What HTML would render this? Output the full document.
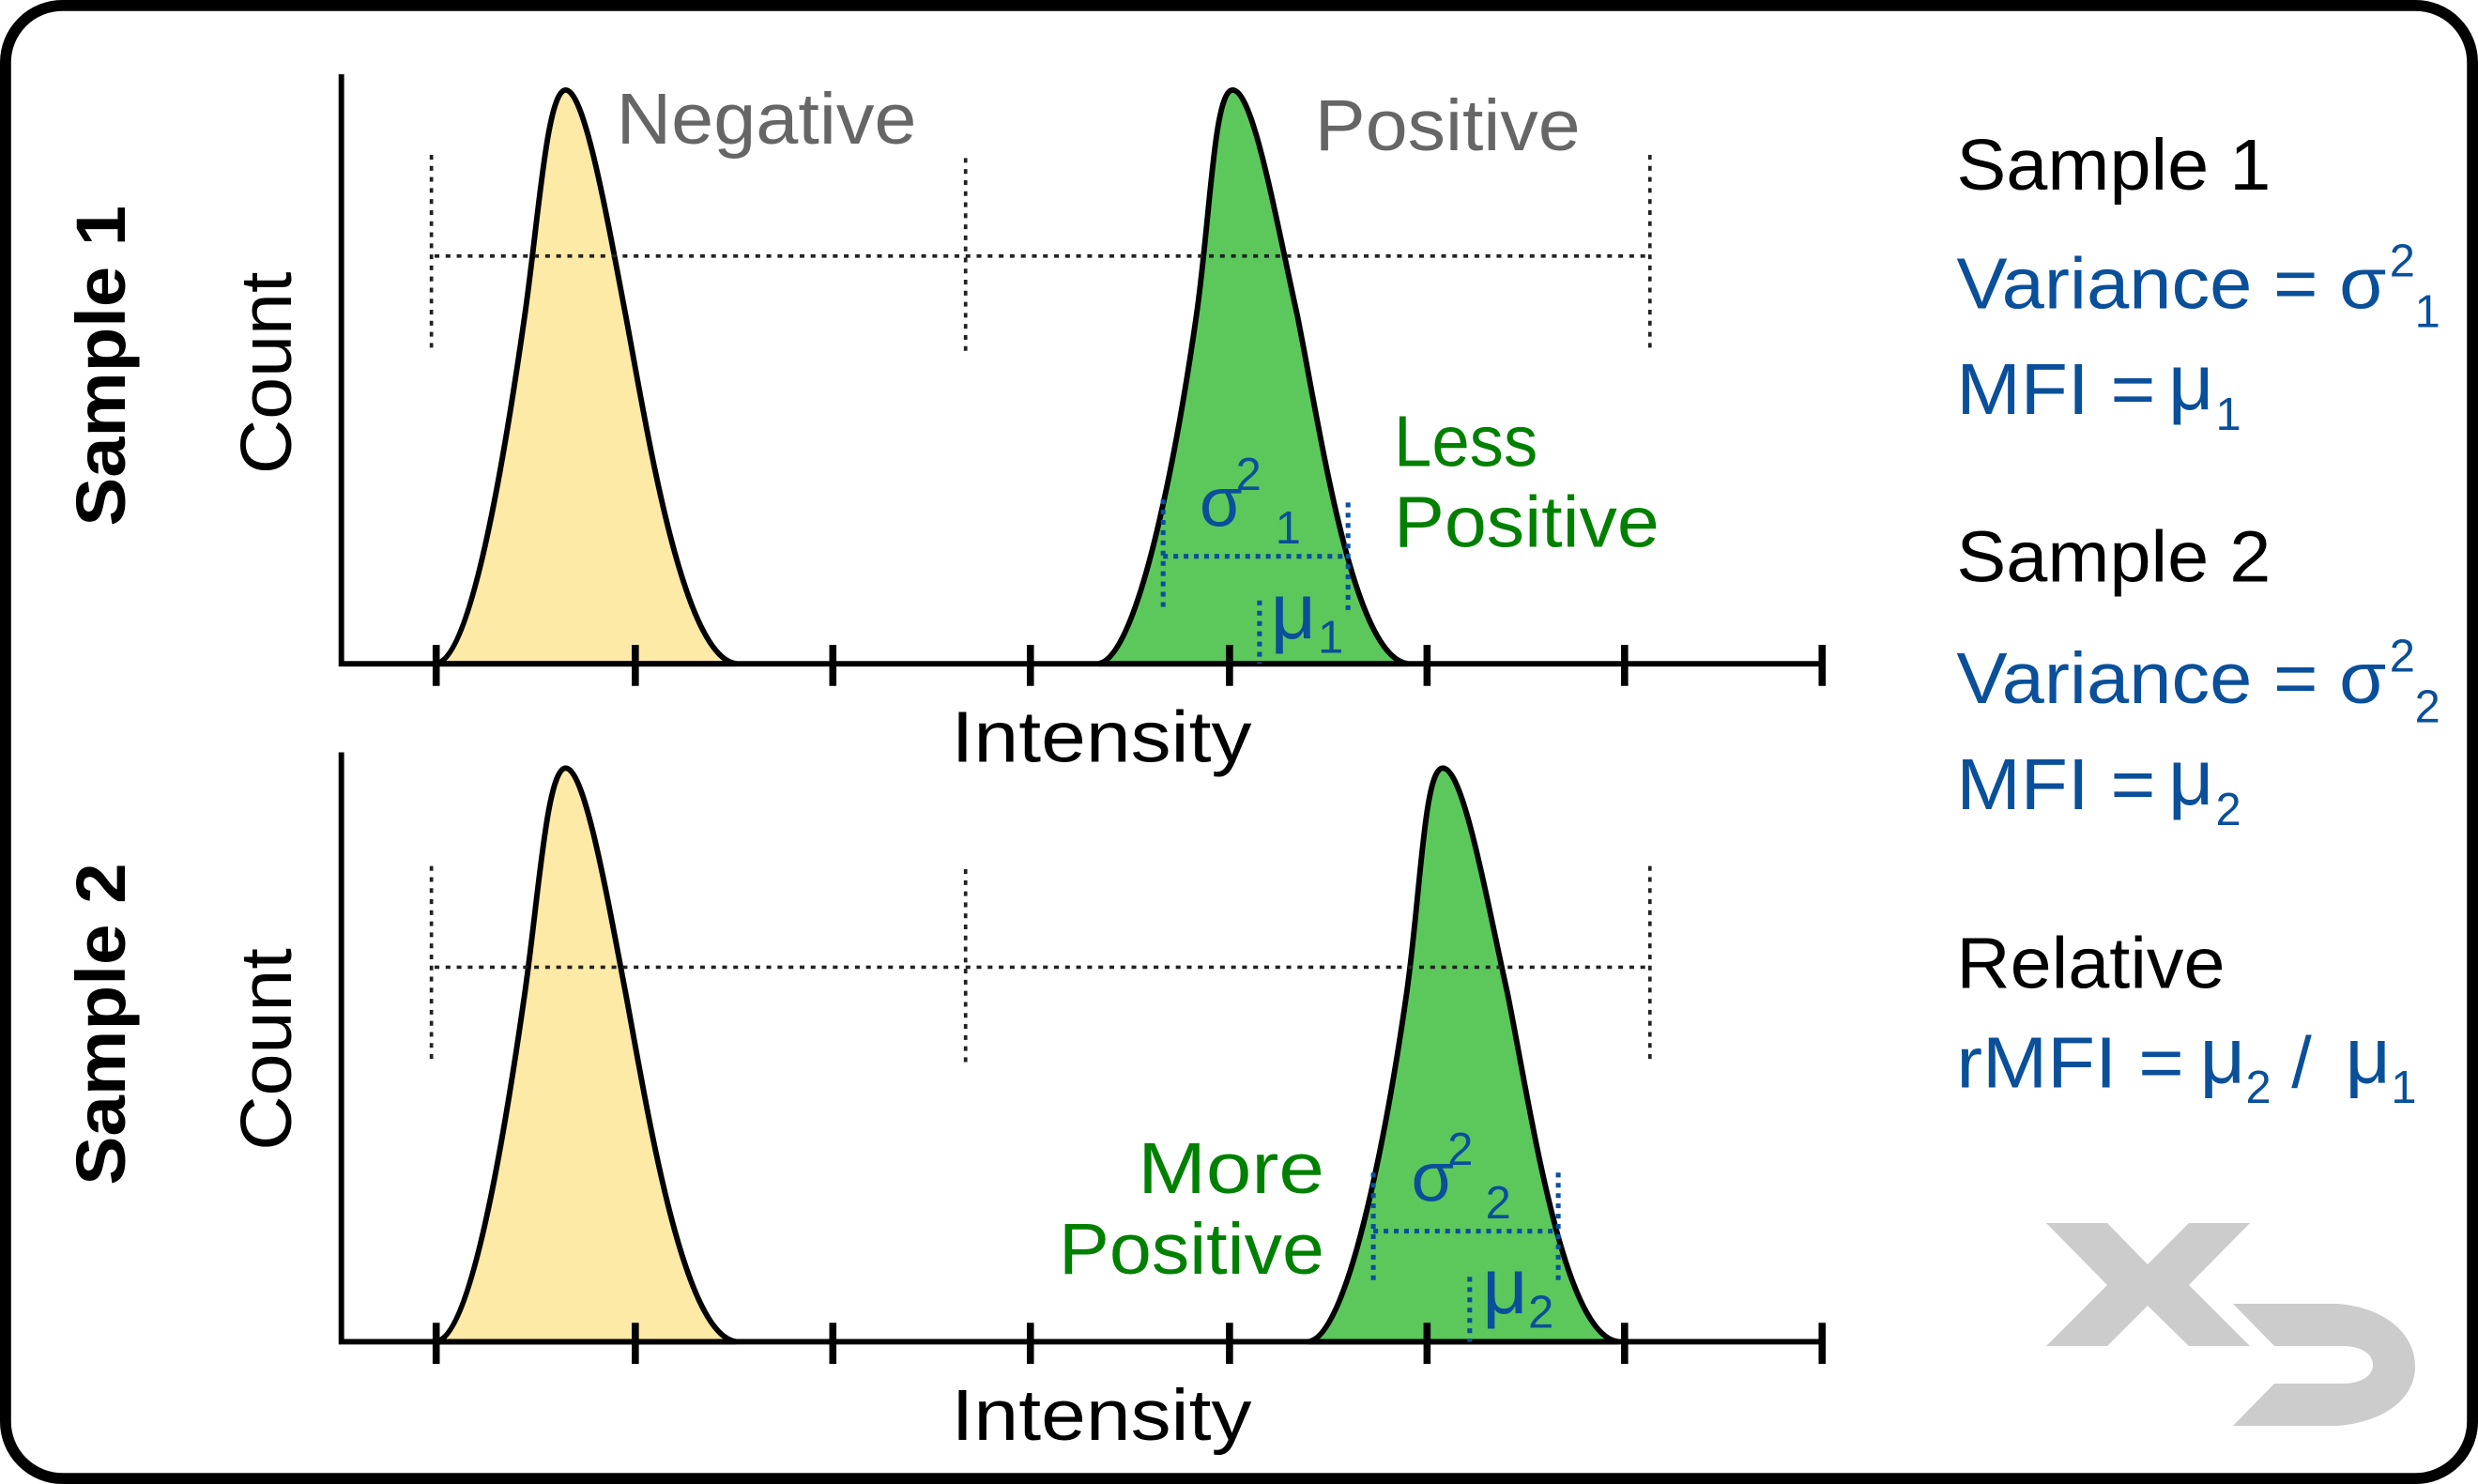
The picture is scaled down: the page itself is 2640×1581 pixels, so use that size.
<!DOCTYPE html>
<html><head><meta charset="utf-8"><style>
html,body{margin:0;padding:0;background:#fff;}
svg{display:block;}
text{font-family:"Liberation Sans",sans-serif;}
</style></head><body>
<svg width="2640" height="1581" viewBox="0 0 1568 939" xmlns="http://www.w3.org/2000/svg">
<rect x="3.5" y="3.5" width="1561" height="932" rx="36" fill="#fff" stroke="#000" stroke-width="7"/>

<path d="M276,420 C300,416 322,270 332,200 C341,137 346,57 358,57 C370,57 384,137 396,200 C410,275 432,416 466,420 Z" fill="#fdeaa6" stroke="#000" stroke-width="3.5"/>
<path d="M695,420 C722,416 747,270 757,200 C766,137 768,57 780,57 C793,57 807,137 821,200 C836,275 856,416 891,420 Z" fill="#5cc85c" stroke="#000" stroke-width="3.5"/>
<line x1="275" y1="162" x2="1044" y2="162" stroke="#222" stroke-width="2.2" stroke-dasharray="3,4"/>
<line x1="273" y1="98" x2="273" y2="222" stroke="#222" stroke-width="2.2" stroke-dasharray="3,4"/>
<line x1="611" y1="100" x2="611" y2="226" stroke="#222" stroke-width="2.2" stroke-dasharray="3,4"/>
<line x1="1044" y1="98" x2="1044" y2="222" stroke="#222" stroke-width="2.2" stroke-dasharray="3,4"/>
<path d="M216,47 L216,420 L1155,420" fill="none" stroke="#000" stroke-width="3.5"/>
<g stroke="#000" stroke-width="4.5">
<line x1="276" y1="408" x2="276" y2="434"/><line x1="402" y1="408" x2="402" y2="434"/><line x1="527" y1="408" x2="527" y2="434"/><line x1="652" y1="408" x2="652" y2="434"/><line x1="778" y1="408" x2="778" y2="434"/><line x1="903" y1="408" x2="903" y2="434"/><line x1="1028" y1="408" x2="1028" y2="434"/><line x1="1153" y1="408" x2="1153" y2="434"/>
</g>
<g stroke="#0a4f9a" stroke-width="3" stroke-dasharray="3,3.5" fill="none">
<line x1="736" y1="316" x2="736" y2="386"/><line x1="853" y1="318" x2="853" y2="386"/><line x1="736" y1="352" x2="853" y2="352"/><line x1="797" y1="380" x2="797" y2="420"/>
</g>
<text x="759" y="333" font-size="44" fill="#0a4f9a">σ</text><text x="782" y="310" font-size="29" fill="#0a4f9a">2</text><text x="807" y="344" font-size="29" fill="#0a4f9a">1</text>
<text x="804" y="404" font-size="50" fill="#0a4f9a">μ</text><text x="834" y="413" font-size="29" fill="#0a4f9a">1</text>

<g transform="translate(0,429)">
<path d="M276,420 C300,416 322,270 332,200 C341,137 346,57 358,57 C370,57 384,137 396,200 C410,275 432,416 466,420 Z" fill="#fdeaa6" stroke="#000" stroke-width="3.5"/>
<path d="M828,420 C855,416 880,270 890,200 C899,137 901,57 913,57 C926,57 940,137 954,200 C969,275 989,416 1024,420 Z" fill="#5cc85c" stroke="#000" stroke-width="3.5"/>
<path d="M216,47 L216,420 L1155,420" fill="none" stroke="#000" stroke-width="3.5"/>
<g stroke="#000" stroke-width="4.5">
<line x1="276" y1="408" x2="276" y2="434"/><line x1="402" y1="408" x2="402" y2="434"/><line x1="527" y1="408" x2="527" y2="434"/><line x1="652" y1="408" x2="652" y2="434"/><line x1="778" y1="408" x2="778" y2="434"/><line x1="903" y1="408" x2="903" y2="434"/><line x1="1028" y1="408" x2="1028" y2="434"/><line x1="1153" y1="408" x2="1153" y2="434"/>
</g>
</g>
<line x1="275" y1="612" x2="1044" y2="612" stroke="#222" stroke-width="2.2" stroke-dasharray="3,4"/>
<line x1="273" y1="548" x2="273" y2="672" stroke="#222" stroke-width="2.2" stroke-dasharray="3,4"/>
<line x1="611" y1="550" x2="611" y2="676" stroke="#222" stroke-width="2.2" stroke-dasharray="3,4"/>
<line x1="1044" y1="548" x2="1044" y2="672" stroke="#222" stroke-width="2.2" stroke-dasharray="3,4"/>
<g stroke="#0a4f9a" stroke-width="3" stroke-dasharray="3,3.5" fill="none">
<line x1="869" y1="742" x2="869" y2="812"/><line x1="986" y1="742" x2="986" y2="812"/><line x1="869" y1="779" x2="986" y2="779"/><line x1="930" y1="808" x2="930" y2="849"/>
</g>
<text x="893" y="760" font-size="44" fill="#0a4f9a">σ</text><text x="916" y="737" font-size="29" fill="#0a4f9a">2</text><text x="940" y="771" font-size="29" fill="#0a4f9a">2</text>
<text x="938" y="831" font-size="50" fill="#0a4f9a">μ</text><text x="967" y="840" font-size="29" fill="#0a4f9a">2</text>

<text x="390" y="91" font-size="46" fill="#666" textLength="190" lengthAdjust="spacingAndGlyphs">Negative</text>
<text x="832" y="95" font-size="46" fill="#666" textLength="168" lengthAdjust="spacingAndGlyphs">Positive</text>
<text x="882" y="295" font-size="46" fill="#008000" textLength="91" lengthAdjust="spacingAndGlyphs">Less</text>
<text x="882" y="346" font-size="46" fill="#008000" textLength="168" lengthAdjust="spacingAndGlyphs">Positive</text>
<text x="720" y="755" font-size="46" fill="#008000" textLength="118" lengthAdjust="spacingAndGlyphs">More</text>
<text x="670" y="806" font-size="46" fill="#008000" textLength="168" lengthAdjust="spacingAndGlyphs">Positive</text>
<text x="602" y="482" font-size="46" fill="#000" textLength="190" lengthAdjust="spacingAndGlyphs">Intensity</text>
<text x="602" y="911" font-size="46" fill="#000" textLength="190" lengthAdjust="spacingAndGlyphs">Intensity</text>
<text transform="translate(184,300) rotate(-90)" font-size="46" fill="#000" textLength="128" lengthAdjust="spacingAndGlyphs">Count</text>
<text transform="translate(184,728) rotate(-90)" font-size="46" fill="#000" textLength="128" lengthAdjust="spacingAndGlyphs">Count</text>
<text transform="translate(79,333) rotate(-90)" font-size="44" font-weight="bold" fill="#000" textLength="203" lengthAdjust="spacingAndGlyphs">Sample 1</text>
<text transform="translate(79,750) rotate(-90)" font-size="44" font-weight="bold" fill="#000" textLength="204" lengthAdjust="spacingAndGlyphs">Sample 2</text>

<text x="1238" y="120" font-size="46" fill="#000" textLength="199" lengthAdjust="spacingAndGlyphs">Sample 1</text>
<text x="1238" y="195" font-size="46" fill="#0a4f9a" textLength="272" lengthAdjust="spacingAndGlyphs">Variance = σ</text>
<text x="1512" y="175" font-size="29" fill="#0a4f9a">2</text><text x="1528" y="207" font-size="29" fill="#0a4f9a">1</text>
<text x="1238" y="262" font-size="46" fill="#0a4f9a" textLength="126" lengthAdjust="spacingAndGlyphs">MFI =</text>
<text x="1372" y="259" font-size="50" fill="#0a4f9a">μ</text>
<text x="1402" y="272" font-size="29" fill="#0a4f9a">1</text>
<text x="1238" y="368" font-size="46" fill="#000" textLength="199" lengthAdjust="spacingAndGlyphs">Sample 2</text>
<text x="1238" y="445" font-size="46" fill="#0a4f9a" textLength="272" lengthAdjust="spacingAndGlyphs">Variance = σ</text>
<text x="1512" y="425" font-size="29" fill="#0a4f9a">2</text><text x="1528" y="457" font-size="29" fill="#0a4f9a">2</text>
<text x="1238" y="512" font-size="46" fill="#0a4f9a" textLength="126" lengthAdjust="spacingAndGlyphs">MFI =</text>
<text x="1372" y="509" font-size="50" fill="#0a4f9a">μ</text>
<text x="1402" y="522" font-size="29" fill="#0a4f9a">2</text>
<text x="1238" y="625" font-size="46" fill="#000" textLength="170" lengthAdjust="spacingAndGlyphs">Relative</text>
<text x="1238" y="688" font-size="46" fill="#0a4f9a" textLength="144" lengthAdjust="spacingAndGlyphs">rMFI =</text>
<text x="1392" y="685" font-size="50" fill="#0a4f9a">μ</text>
<text x="1421" y="698" font-size="29" fill="#0a4f9a">2</text>
<text x="1450" y="688" font-size="46" fill="#0a4f9a">/</text>
<text x="1484" y="685" font-size="50" fill="#0a4f9a">μ</text>
<text x="1513" y="698" font-size="29" fill="#0a4f9a">1</text>

<g transform="scale(0.59394)" fill="#cccccc">
<polygon points="2180,1303 2245,1303 2288,1347 2332,1303 2397,1303 2332,1369 2397,1434 2332,1434 2288,1391 2245,1434 2180,1434 2245,1369"/>
<path d="M2379,1389 L2491,1389 C2540,1393 2573,1420 2573,1456 C2573,1490 2540,1515 2491,1519 L2379,1519 L2423,1474 L2496,1474 C2515,1474 2528,1466 2528,1454 C2528,1442 2515,1434 2496,1434 L2423,1434 Z"/>
</g>
</svg>
</body></html>
